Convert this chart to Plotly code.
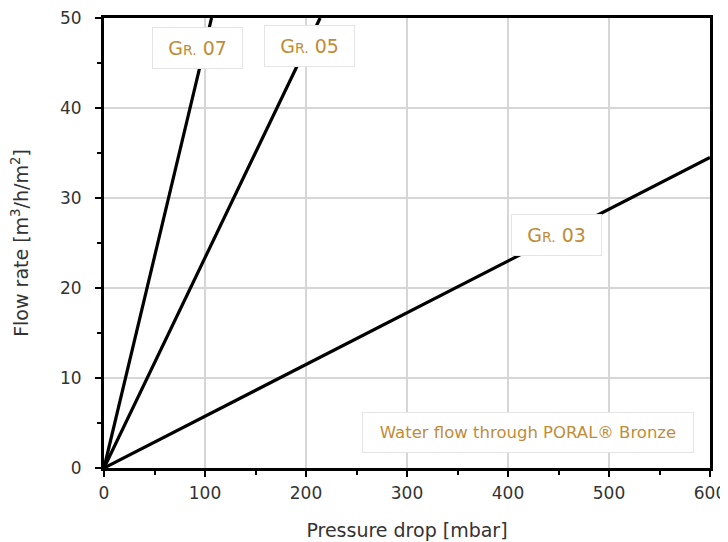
import plotly.graph_objects as go

# Data
grade_names = ["Gr. 07", "Gr. 05", "Gr. 03"]
pressure_gr07 = [0, 106.5]
flow_gr07 = [0, 50]
pressure_gr05 = [0, 214]
flow_gr05 = [0, 50]
pressure_gr03 = [0, 600]
flow_gr03 = [0, 34.5]

label_texts = ["G<span style='font-size:14px'>R.</span> 07",
               "G<span style='font-size:14px'>R.</span> 05",
               "G<span style='font-size:14px'>R.</span> 03"]
label_x = [92.6, 203, 448.5]
label_y = [46.7, 46.9, 25.9]

note_text = "Water flow through PORAL® Bronze"
note_x = 420
note_y = 3.95

x_ticks = [0, 100, 200, 300, 400, 500, 600]
y_ticks = [0, 10, 20, 30, 40, 50]

gold = "#c08c38"
txt = "#333333"

fig = go.Figure()
for xs, ys, name in [(pressure_gr07, flow_gr07, grade_names[0]),
                     (pressure_gr05, flow_gr05, grade_names[1]),
                     (pressure_gr03, flow_gr03, grade_names[2])]:
    fig.add_trace(go.Scatter(x=xs, y=ys, mode="lines", name=name,
                             line=dict(color="black", width=3.2),
                             showlegend=False, hoverinfo="skip"))

for t, x, y in zip(label_texts, label_x, label_y):
    fig.add_annotation(x=x, y=y, text=t, showarrow=False,
                       font=dict(family="DejaVu Sans", size=19, color=gold),
                       bgcolor="white", bordercolor="#e4e4e4", borderwidth=1,
                       width=89, height=40, borderpad=0)

fig.add_annotation(x=note_x, y=note_y, text=note_text, showarrow=False,
                   font=dict(family="DejaVu Sans", size=16.5, color=gold),
                   bgcolor="white", bordercolor="#e4e4e4", borderwidth=1,
                   width=330, height=39, borderpad=0)

axis_common = dict(showline=True, linecolor="black", linewidth=3, mirror=True,
                   ticks="outside", ticklen=6, tickwidth=2, tickcolor="black",
                   showgrid=True, gridcolor="#d6d6d6", gridwidth=2,
                   zeroline=False, automargin=False, ticklabeloverflow="allow",
                   tickfont=dict(family="DejaVu Sans", size=17, color=txt))

fig.update_xaxes(range=[0, 600], tickvals=x_ticks, **axis_common,
                 ticklabelstandoff=2,
                 minor=dict(dtick=50, ticks="outside", ticklen=4, tickwidth=2,
                            tickcolor="black", showgrid=False),
                 title=dict(text="Pressure drop [mbar]", standoff=22,
                            font=dict(family="DejaVu Sans", size=19, color=txt)))
fig.update_yaxes(range=[0, 50], tickvals=y_ticks, **axis_common,
                 ticklabelstandoff=10,
                 minor=dict(dtick=5, ticks="outside", ticklen=4, tickwidth=2,
                            tickcolor="black", showgrid=False),
                 title=dict(text="Flow rate [m<sup>3</sup>/h/m<sup>2</sup>]", standoff=28,
                            font=dict(family="DejaVu Sans", size=19, color=txt)))

# the page body has an 8px default margin, so the figure is sized to fit the window
fig.update_layout(width=720, height=534, plot_bgcolor="white", paper_bgcolor="white",
                  margin=dict(l=96, r=18, t=10, b=74))

fig.write_html("out.html")
